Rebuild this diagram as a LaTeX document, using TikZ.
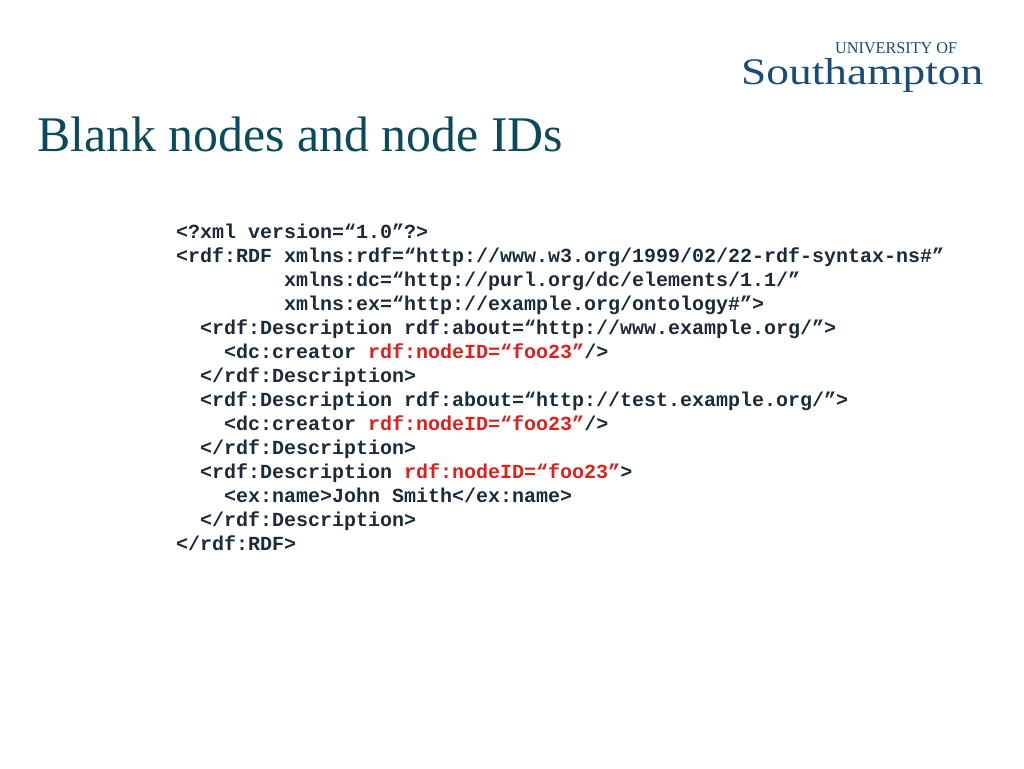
\documentclass[tikz,border=0pt]{standalone}
\usepackage{fontspec}
\setmainfont{Liberation Serif}
\setmonofont{Liberation Mono}
\newfontfamily\logofont{Liberation Serif}
\definecolor{titlec}{HTML}{0B4A5C}
\definecolor{codec}{HTML}{1C2B3C}
\definecolor{redc}{HTML}{E0201B}
\definecolor{logoc}{HTML}{1A4C7A}
\begin{document}
\begin{tikzpicture}[x=1pt,y=-1pt,
  code/.style={anchor=base west,inner sep=0pt,font=\fontsize{20}{24}\ttfamily\bfseries,text=codec}]
\useasboundingbox (0,0) rectangle (1024,768);
\node[anchor=base west,inner sep=0pt,text=titlec,font=\fontsize{43}{50}\selectfont] (title) at (37,151) {\resizebox{526pt}{!}{Blank nodes and node IDs}};
\node[anchor=base west,inner sep=0pt,text=logoc,font=\fontsize{16}{18}\logofont] (uni) at (835,54) {\resizebox{122pt}{11pt}{UNIVERSITY OF}};
\node[anchor=base west,inner sep=0pt,text=logoc,font=\fontsize{40}{44}\logofont] (soton) at (741,84) {\resizebox{242pt}{26pt}{Southampton}};
\def\R#1{\textcolor{redc}{#1}}
\node[code] (l1) at (176,238) {<?xml version=“1.0”?>};
\node[code] (l2) at (176,262) {<rdf:RDF xmlns:rdf=“http://www.w3.org/1999/02/22-rdf-syntax-ns\#”};
\node[code] (l3) at (284,286) {xmlns:dc=“http://purl.org/dc/elements/1.1/”};
\node[code] (l4) at (284,310) {xmlns:ex=“http://example.org/ontology\#”>};
\node[code] (l5) at (200,334) {<rdf:Description rdf:about=“http://www.example.org/”>};
\node[code] (l6) at (224,358) {<dc:creator \R{rdf:nodeID=“foo23”}/>};
\node[code] (l7) at (200,382) {</rdf:Description>};
\node[code] (l8) at (200,406) {<rdf:Description rdf:about=“http://test.example.org/”>};
\node[code] (l9) at (224,430) {<dc:creator \R{rdf:nodeID=“foo23”}/>};
\node[code] (l10) at (200,454) {</rdf:Description>};
\node[code] (l11) at (200,478) {<rdf:Description \R{rdf:nodeID=“foo23”}>};
\node[code] (l12) at (224,502) {<ex:name>John Smith</ex:name>};
\node[code] (l13) at (200,526) {</rdf:Description>};
\node[code] (l14) at (176,550) {</rdf:RDF>};
\end{tikzpicture}
\end{document}
